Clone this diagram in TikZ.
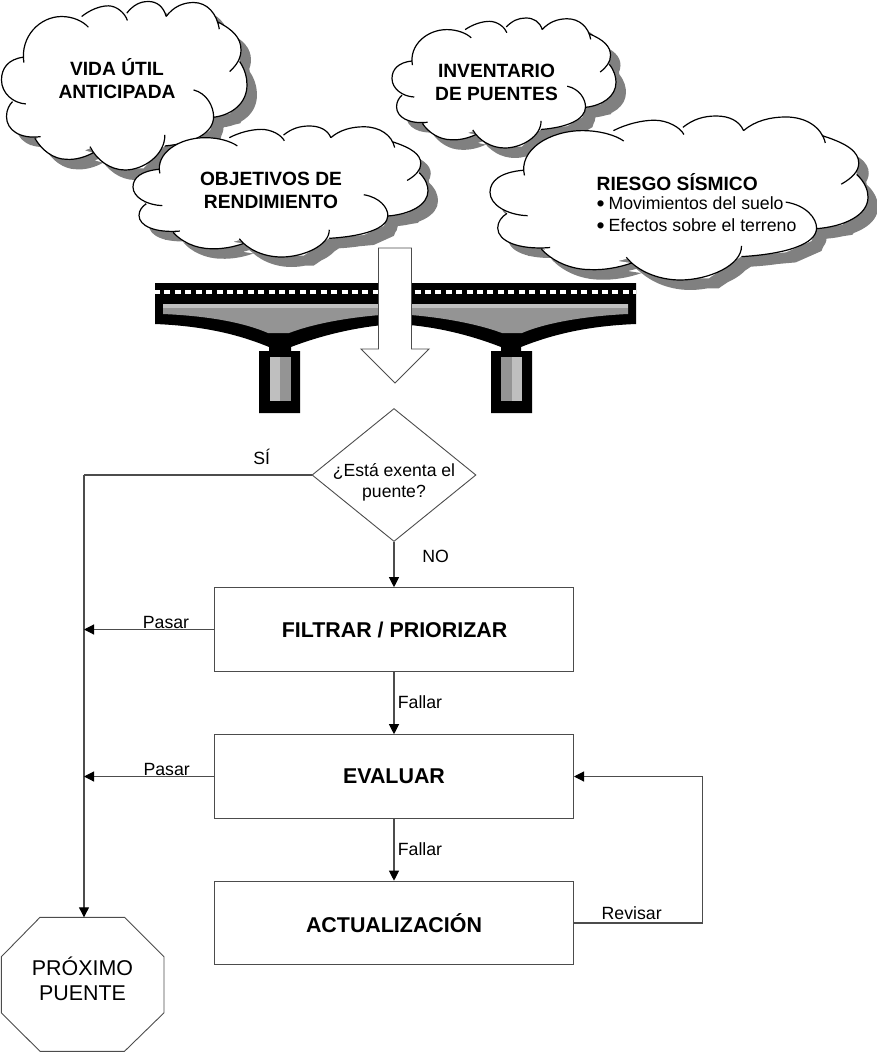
\documentclass[tikz,border=0pt]{standalone}
\usepackage{fontspec}
\setmainfont{Liberation Sans}
\usetikzlibrary{arrows.meta,shapes.geometric}
\definecolor{linegray}{gray}{0.3}
\definecolor{shadowgray}{gray}{0.5}
\definecolor{deckgray}{gray}{0.58}
\definecolor{lightgray2}{gray}{0.75}
\newcommand\cloudcurves{
 (78,312) .. controls (40,310) and (5,280) .. (5,240) .. controls (5,205) and (25,178) .. (70,172)
 (72,188) .. controls (60,110) and (120,50) .. (185,50) .. controls (220,50) and (250,65) .. (265,82)
 (245,50) .. controls (270,30) and (300,18) .. (325,18) .. controls (350,18) and (375,40) .. (382,62)
 (380,40) .. controls (400,15) and (420,5) .. (445,5) .. controls (470,5) and (490,20) .. (498,50)
 (498,50) .. controls (520,20) and (550,8) .. (580,8) .. controls (620,8) and (650,40) .. (657,88)
 (650,65) .. controls (700,90) and (722,115) .. (722,150) .. controls (722,175) and (710,195) .. (688,215)
 (718,185) .. controls (735,210) and (740,235) .. (740,255) .. controls (740,310) and (695,345) .. (640,352)
 (580,270) .. controls (620,280) and (640,320) .. (640,350) .. controls (640,400) and (580,430) .. (494,438)
 (494,405) .. controls (495,465) and (430,510) .. (375,510) .. controls (330,510) and (290,480) .. (270,440)
 (280,458) .. controls (255,472) and (225,480) .. (200,478) .. controls (160,478) and (125,450) .. (105,415)
 (122,410) .. controls (60,418) and (20,390) .. (20,350) .. controls (20,330) and (28,315) .. (38,305)
}
\newcommand\cloudcore{(72,178) -- (100,100) -- (185,55) -- (250,60) -- (320,25) -- (385,45) -- (445,10) -- (498,50) -- (580,12) -- (650,65) -- (715,150) -- (718,185) -- (735,250) -- (690,340) -- (640,352) -- (630,390) -- (580,425) -- (494,437) -- (430,505) -- (375,505) -- (290,470) -- (270,445) -- (200,473) -- (130,445) -- (110,412) -- (60,405) -- (25,350) -- (38,305) -- (10,240) -- (30,185) -- cycle}
\newcommand\cloudat[4]{%
 \begin{scope}[shift={({#1+10},{#2+10})},x=#3/735*1pt,y=-#4/505*1pt,shift={(-5,-5)}]
  \fill[shadowgray] \cloudcurves \cloudcore;
 \end{scope}
 \begin{scope}[shift={(#1,#2)},x=#3/735*1pt,y=-#4/505*1pt,shift={(-5,-5)}]
  \fill[white] \cloudcurves \cloudcore;
  \draw[black,line width=1.2pt] \cloudcurves;
 \end{scope}}
\newcommand\bigbullet{\makebox[11.8pt][l]{\fontsize{23}{21}\selectfont\raisebox{-2.4pt}{•}}}
\tikzset{
 x=1pt,y=-1pt,
 cloudtext/.style={font=\fontsize{19.2}{23}\selectfont\bfseries,align=center,inner sep=0pt},
 cloudsmall/.style={font=\fontsize{17.7}{21}\selectfont,anchor=west,inner sep=0pt},
 flowbox/.style={draw=linegray,line width=1pt,fill=white,minimum width=359pt,minimum height=83.6pt,inner sep=0pt,font=\fontsize{21.4}{25}\selectfont\bfseries},
 edgelabel/.style={font=\fontsize{17.7}{21}\selectfont,inner sep=0pt},
 conn/.style={draw=linegray,line width=1.1pt},
 connarrow/.style={conn,-{Triangle[length=10pt,width=10pt,color=black]}}
}
\begin{document}
\begin{tikzpicture}
\useasboundingbox (0,0) rectangle (876,1052);
% clouds
\cloudat{1.5}{1.5}{245.5}{168.5}
\cloudat{392}{18}{224}{130}
\cloudat{133}{126}{295}{131}
\cloudat{490}{116}{378}{164}
\node[cloudtext] (life) at (117,78.5) {VIDA ÚTIL\\ANTICIPADA};
\node[cloudtext] (perf) at (271,190.5) {OBJETIVOS DE\\RENDIMIENTO};
\node[cloudtext] (inv) at (496.5,82) {INVENTARIO\\DE PUENTES};
\node[cloudtext,anchor=west] (risk) at (596.5,182) {RIESGO SÍSMICO};
\node[cloudsmall] (riska) at (596.5,204) {\bigbullet Movimientos del suelo};
\node[cloudsmall] (riskb) at (596.5,226) {\bigbullet Efectos sobre el terreno};
% bridge
\fill[black] (155,283) -- (636,283) -- (636,324)
  .. controls (586,326) and (551,335) .. (521,347) -- (521,351) -- (532,351) -- (532,413) -- (491,413) -- (491,351) -- (501,351) -- (501,347)
  .. controls (470,335) and (435,326) .. (396,324)
  .. controls (360,326) and (322,335) .. (291,347) -- (291,351) -- (300,351) -- (300,413) -- (259,413) -- (259,351) -- (269,351) -- (269,347)
  .. controls (240,335) and (205,326) .. (155,324) -- cycle;
\draw[white,line width=4pt,dash pattern=on 6pt off 4.42pt,dash phase=1pt] (155,291.7) -- (636,291.7);
\fill[deckgray] (163,304) -- (396,304) -- (396,314) .. controls (355,316) and (315,323) .. (289,333) -- (268,333) .. controls (245,323) and (210,316) .. (163,314) -- cycle;
\fill[deckgray] (396,304) -- (628,304) -- (628,314) .. controls (585,316) and (545,323) .. (522,333) -- (502,333) .. controls (475,323) and (435,316) .. (396,314) -- cycle;
\fill[lightgray2] (163,304) rectangle (628,308);
\fill[lightgray2] (269.5,357) rectangle (280,401);
\fill[deckgray] (280,357) rectangle (290.5,401);
\fill[deckgray] (501,357) rectangle (511.5,401);
\fill[lightgray2] (511.5,357) rectangle (522,401);
% big arrow
\draw[fill=white,draw=linegray,line width=0.9pt,line join=miter] (378.5,248) -- (411.5,248) -- (411.5,349) -- (429,349) -- (395,383) -- (361,349) -- (378.5,349) -- cycle;
% flow
\node[diamond,draw=linegray,line width=0.9pt,fill=white,minimum width=164pt,minimum height=133pt,inner sep=0pt] (q) at (394,475) {};
\node[font=\fontsize{17.6}{21}\selectfont,align=center,inner sep=0pt] (qtext) at (394,482.5) {¿Está exenta el\\puente?};
\node[flowbox] (filter) at (394,629.5) {\hspace*{1pt}FILTRAR / PRIORIZAR};
\node[flowbox] (eval) at (394,776.5) {EVALUAR};
\node[flowbox] (update) at (394,923) {ACTUALIZACIÓN};
\node[minimum width=162.4pt,minimum height=134pt,inner sep=0pt,font=\fontsize{21.4}{25.4}\selectfont,align=center] (next) at (82.5,979) {PRÓXIMO\\PUENTE};
\coordinate (oct) at (82.5,984.3);
\draw[draw=linegray,line width=0.9pt] (oct) ++(-42.5,-67) -- ++(84.5,0) -- ++(39.5,39.5) -- ++(0,56) -- ++(-39.5,38.5) -- ++(-84.5,0) -- ++(-38.7,-38.5) -- ++(0,-56) -- cycle;
\coordinate (bus) at (84,475);
\coordinate (octtop) at (84,917.3);
\coordinate (loop) at (702.5,776.5);
\draw[conn] (q.west) -- (bus);
\draw[connarrow] (bus) -- (octtop);
\draw[connarrow] (q.south) -- (filter.north);
\draw[connarrow] (filter.south) -- (eval.north);
\draw[connarrow] (eval.south) -- (update.north);
\draw[connarrow] (filter.west) -- (bus |- filter.west);
\draw[connarrow] (eval.west) -- (bus |- eval.west);
\draw[connarrow] (update.east) -- (loop |- update.east) -- (loop) -- (eval.east);
\node[edgelabel] (si) at (261.7,457) {SÍ};
\node[edgelabel] (no) at (435.7,556) {NO};
\node[edgelabel] (pasa) at (166,622.7) {Pasar};
\node[edgelabel] (pasb) at (166.7,769) {Pasar};
\node[edgelabel] (fala) at (420,701.7) {Fallar};
\node[edgelabel] (falb) at (420,849.3) {Fallar};
\node[edgelabel] (rev) at (631.7,912.7) {Revisar};
\end{tikzpicture}
\end{document}
